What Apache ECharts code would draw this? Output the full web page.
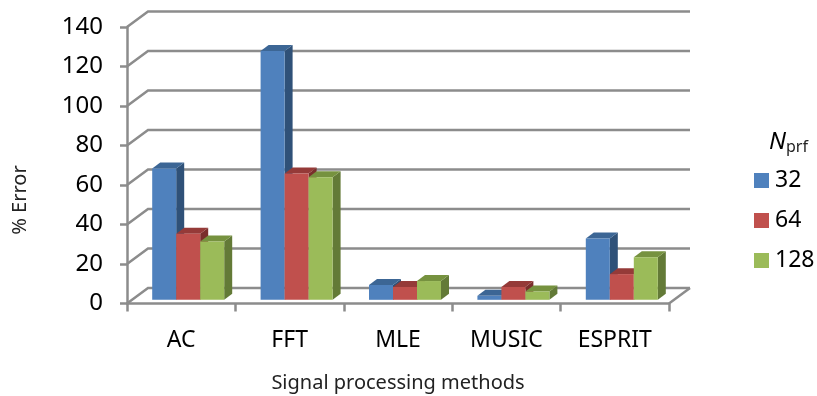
<!DOCTYPE html>
<html>
<head>
<meta charset="utf-8">
<style>
html,body{margin:0;padding:0;background:#fff}
#chart{width:817px;height:396px}
</style>
</head>
<body>
<div id="chart"></div>
<script src="https://cdn.jsdelivr.net/npm/echarts@6/dist/echarts.min.js"></script>
<script>
var methods = ['AC', 'FFT', 'MLE', 'MUSIC', 'ESPRIT'];
var yTicks = [0, 20, 40, 60, 80, 100, 120, 140];
var seriesNames = ['32', '64', '128'];
var n32 = [66.5, 126, 7.5, 2, 31];
var n64 = [33.5, 64, 6.5, 6.5, 13];
var n128 = [29.5, 62, 9.5, 4.2, 21.5];

var font = '"Noto Sans", sans-serif';
var lineColor = '#8c8c8c';
var front = ['#4f81bd', '#c0504d', '#9bbb59'];
var topFace = ['#3c6695', '#953a38', '#76923f'];
var sideFace = ['#2f5178', '#7a2e2c', '#637a37'];

var wallDx = 21, wallDy = -15.5; //后墙相对坐标轴的偏移
var barDx = 7, barDy = -3.7; //柱子相对坐标轴的偏移
var depthX = 8, depthY = -6; //柱子厚度

function renderWall(params, api) { //后墙网格线
	var c = params.coordSys;
	var y = api.coord([0, api.value(0)])[1];
	var left = c.x, right = c.x + c.width;
	var children = [{
		type: 'polyline',
		shape: { points: [[left, y], [left + wallDx, y + wallDy], [right + wallDx, y + wallDy]] },
		style: { fill: null, stroke: lineColor, lineWidth: 2.5 }
	}];
	if (api.value(0) === 0) { //地板右边的斜线
		children.push({
			type: 'line',
			shape: { x1: right, y1: y, x2: right + wallDx, y2: y + wallDy },
			style: { stroke: lineColor, lineWidth: 2.5 }
		});
	}
	return { type: 'group', children: children };
}

function renderBar(k) { //三维柱子
	return function(params, api) {
		var base = api.coord([api.value(0), 0]);
		var tip = api.coord([api.value(0), api.value(1)]);
		var w = api.size([1, 0])[0] * 0.2214;
		var x0 = base[0] + barDx + (k - 1.5) * w;
		var x1 = x0 + w;
		var y0 = base[1] + barDy;
		var y1 = tip[1] + barDy;
		return {
			type: 'group',
			children: [{
				type: 'polygon',
				shape: { points: [[x1, y0], [x1 + depthX, y0 + depthY], [x1 + depthX, y1 + depthY], [x1, y1]] },
				style: { fill: sideFace[k] }
			}, {
				type: 'polygon',
				shape: { points: [[x0, y1], [x0 + depthX, y1 + depthY], [x1 + depthX, y1 + depthY], [x1, y1]] },
				style: { fill: topFace[k] }
			}, {
				type: 'rect',
				shape: { x: x0, y: y1, width: w, height: y0 - y1 },
				style: { fill: front[k] }
			}]
		};
	};
}

function barData(values) {
	return values.map(function(v, i) { return [i, v]; });
}

var myChart = echarts.init(document.getElementById('chart'));
var option = {
	animation: false,
	title: {
		left: 769,
		top: 129,
		padding: 0,
		text: '{n|N}{s|prf}',
		textStyle: {
			fontWeight: 'normal',
			rich: {
				n: { fontFamily: font, fontStyle: 'italic', fontWeight: 'normal', fontSize: 24, color: '#000' },
				s: { fontFamily: font, fontWeight: 'normal', fontSize: 16, color: '#222', padding: [10, 0, 0, 0] }
			}
		}
	},
	legend: {
		orient: 'vertical',
		left: 754,
		top: 169,
		padding: 0,
		itemWidth: 15,
		itemHeight: 15,
		itemGap: 17,
		icon: 'rect',
		data: seriesNames,
		textStyle: { fontFamily: font, fontSize: 23, color: '#000', padding: [0, 0, 0, 1] }
	},
	graphic: [{
		type: 'text',
		x: 20,
		y: 200,
		rotation: Math.PI / 2,
		style: { text: '% Error', fontFamily: font, fontSize: 20, fill: '#222', align: 'center', verticalAlign: 'middle' }
	}],
	grid: { left: 127, right: 148, top: 27, bottom: 92.5, outerBoundsMode: 'none' },
	xAxis: {
		type: 'category',
		data: methods,
		name: 'Signal processing methods',
		nameLocation: 'middle',
		nameGap: 70,
		nameTextStyle: { fontFamily: font, fontSize: 20, color: '#222' },
		axisLine: { lineStyle: { color: lineColor, width: 2.5 } },
		axisTick: { show: true, length: 8, lineStyle: { color: lineColor, width: 2.5 } },
		axisLabel: { fontFamily: font, fontSize: 23, color: '#000', margin: 25 }
	},
	yAxis: {
		type: 'value',
		min: 0,
		max: 140,
		interval: 20,
		axisLine: { show: true, lineStyle: { color: lineColor, width: 2.5 } },
		axisTick: { show: true, length: 7, lineStyle: { color: lineColor, width: 2.5 } },
		axisLabel: { fontFamily: font, fontSize: 24, color: '#000', margin: 24, padding: [3, 0, 0, 0] },
		splitLine: { show: false }
	},
	series: [{
		type: 'custom',
		name: 'wall',
		z: 1,
		silent: true,
		renderItem: renderWall,
		encode: { y: 0 },
		data: yTicks.map(function(v) { return [v]; })
	}, {
		type: 'custom',
		name: seriesNames[0],
		z: 2,
		itemStyle: { color: front[0] },
		renderItem: renderBar(0),
		encode: { x: 0, y: 1 },
		data: barData(n32)
	}, {
		type: 'custom',
		name: seriesNames[1],
		z: 3,
		itemStyle: { color: front[1] },
		renderItem: renderBar(1),
		encode: { x: 0, y: 1 },
		data: barData(n64)
	}, {
		type: 'custom',
		name: seriesNames[2],
		z: 4,
		itemStyle: { color: front[2] },
		renderItem: renderBar(2),
		encode: { x: 0, y: 1 },
		data: barData(n128)
	}]
};
myChart.setOption(option);
</script>
</body>
</html>
